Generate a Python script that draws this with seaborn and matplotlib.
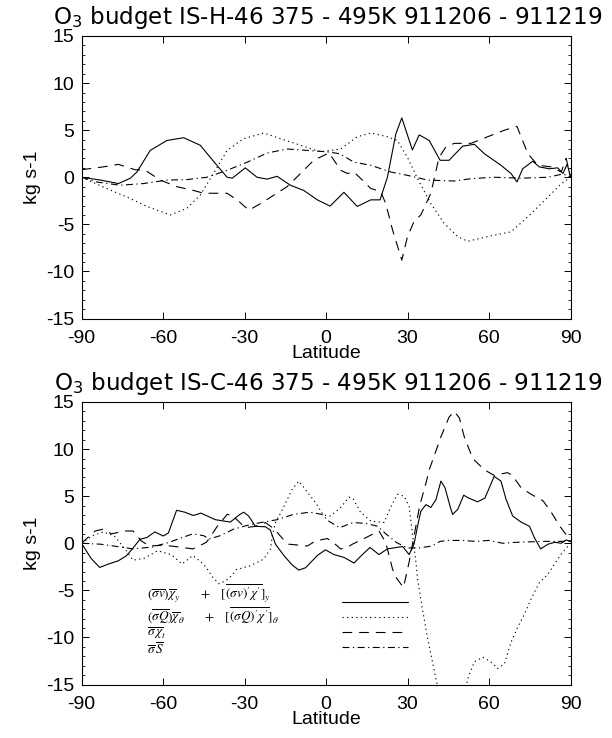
import numpy as np
import pandas as pd
import matplotlib
matplotlib.use("Agg")
import matplotlib.pyplot as plt
import seaborn as sns
from matplotlib.ticker import MultipleLocator
from matplotlib.lines import Line2D

# ---------------- data ----------------
# top panel IS-H-46
top_solid_lat = [-90, -83, -76.4, -72, -69.6, -64.7, -58.6, -52.4, -46.3, -40.7, -36.4, -34.5, -29.7, -25.4,
                 -21.7, -18, -13.1, -8.2, -3.2, 1.5, 6.6, 11.5, 16.5, 19.9, 22.6, 25.7, 27.9, 31.8, 34.3, 38,
                 42, 45.3, 50.3, 54.6, 58.3, 64.4, 68.1, 70.3, 72.4, 76.1, 78.5, 82.2, 85.3, 87.2, 88.8, 90]
top_solid_val = [0, -0.3, -0.67, -0.1, 0.56, 2.85, 3.9, 4.2, 3.4, 1.45, 0, -0.1, 1.0, 0, -0.2, 0.1, -0.85,
                 -1.4, -2.4, -3.06, -1.6, -3.1, -2.4, -2.4, 0, 4.6, 6.3, 2.9, 4.5, 3.9, 1.8, 1.8, 3.3, 3.5,
                 2.5, 1.27, 0.4, -0.5, 0.9, 1.7, 1.1, 0.9, 1.0, 0.4, 1.4, 0]

top_dot_lat = [-90, -80.7, -73.3, -65.9, -57.3, -51.2, -46.3, -41.4, -36.4, -30.3, -22.9, -16.8, -9.4, -2,
               5.4, 11.5, 16.5, 22.6, 26.3, 30, 33.7, 38.6, 43.5, 48.5, 52.1, 59.5, 68.1, 74.3, 81.7, 86.6, 90]
top_dot_val = [0, -1.2, -2.1, -3.1, -4.0, -3.3, -1.9, 0.4, 2.85, 4.1, 4.7, 4.1, 3.4, 2.7, 3.0, 4.3, 4.7,
               4.3, 3.9, 2.1, -0.15, -2.8, -4.9, -6.3, -6.8, -6.3, -5.8, -4.2, -2.1, -0.7, 0]

top_dash_lat = [-90, -82, -76.4, -70.3, -66.6, -61, -54.9, -48.8, -45, -36.4, -32.7, -28.4, -24.1, -19.2,
                -14.3, -9.4, -4.5, 0.5, 1.1, 5.4, 7.9, 10.3, 13.4, 16.5, 20.1, 22, 24.5, 27.9, 30, 32.4,
                34.9, 38.6, 41.6, 44.1, 47.2, 53.4, 59.5, 65.7, 70.3, 74.3, 78, 82.9, 86.6, 88.4, 90]
top_dash_val = [0.8, 1.1, 1.37, 0.8, 0.75, -0.3, -1.0, -1.4, -1.7, -1.7, -2.4, -3.5, -2.8, -1.9, -1.0,
                0.4, 1.8, 2.5, 2.6, 0.74, 0.4, 0.55, -0.3, -1.2, -1.5, -2.8, -5.6, -8.8, -6.3, -4.7, -4.0,
                -1.7, 2.1, 3.2, 3.6, 3.6, 4.3, 5.0, 5.4, 2.5, 1.27, 1.1, 0.56, 2.0, 0]

top_dd_lat = [-90, -84.5, -75.8, -67.2, -58.6, -51.2, -43.8, -36.4, -29, -21.7, -14.3, -6.9, 0.5, 5,
              10.3, 16.5, 23.8, 30, 37.4, 47.2, 53.4, 61.9, 71.8, 81.7, 87.2, 90]
top_dd_val = [0, -0.5, -0.85, -0.67, -0.3, -0.25, 0, 0.74, 1.6, 2.57, 3.0, 2.85, 2.7, 2.5, 1.6, 1.27,
              0.56, 0.2, -0.3, -0.4, -0.15, 0, -0.1, 0, 0.35, 0]

# bottom panel IS-C-46
bot_solid_lat = [-90, -86.5, -83.3, -80, -76.5, -73.5, -71, -68.5, -66, -63, -59.9, -58, -55, -52, -48.9,
                 -46, -43, -40.7, -35.2, -32, -30.3, -28.5, -26, -22.3, -20.5, -18.6, -15.5, -12.5, -10,
                 -7.5, -3.2, -0.2, 2.9, 6.6, 10.3, 13.4, 16.2, 19.5, 22.6, 28.2, 30.6, 32.4, 33.7, 34.9,
                 36.8, 38.6, 40.5, 42.3, 43.8, 45.7, 46.6, 48.5, 50.7, 52.5, 55.8, 58.5, 61.9, 64.4, 66.3,
                 68.7, 71.8, 74.9, 76.7, 79, 81.7, 84.2, 86.6, 88.4, 90]
bot_solid_val = [0, -1.6, -2.57, -2.2, -1.87, -1.34, -0.5, 0.42, 0.6, 1.2, 0.77, 1.1, 3.5, 3.3, 2.95,
                 3.2, 2.8, 2.5, 2.25, 3.0, 3.3, 2.9, 1.8, 1.75, 1.4, -0.1, -1.3, -2.3, -2.85, -2.6, -1.3,
                 -0.7, -1.2, -1.5, -2.1, -1.2, -0.45, -1.2, -0.6, -0.35, -1.2, -0.1, 1.8, 3.4, 4.1, 3.8,
                 4.65, 6.6, 5.9, 3.9, 3.06, 3.6, 5.1, 4.8, 4.4, 4.8, 7.1, 6.6, 4.65, 2.9, 2.25, 1.8, 0.6,
                 -0.6, -0.1, 0.1, 0.0, 0.35, 0.2]

bot_dot_lat = [-90, -86, -82, -78, -74, -71, -67, -62, -57, -53, -49, -46, -44, -42, -39.5, -37, -34.6,
               -33, -28, -23, -20.4, -19.8, -18.6, -16, -12.5, -10, -7.6, -3.8, -1, 1.7, 5.4, 8.5, 10,
               12.8, 16.5, 21.4, 23.9, 26.3, 28.8, 30.6, 31.9, 33.1, 33.7, 35.5, 37.4, 39.2, 40.5, 43,
               47, 50, 52.4, 54.6, 57.7, 60.7, 63.2, 65.7, 68.1, 70.6, 73.1, 75.5, 78.6, 81.7, 84.1, 87, 90]
bot_dot_val = [0, 0.8, 1.2, 0.8, -0.6, -1.8, -1.6, -0.8, -1.2, -2.2, -1.3, -2.0, -2.6, -3.5, -4.3, -4.0,
               -3.4, -2.8, -2.4, -1.7, -0.6, 0.8, 2.2, 3.6, 5.7, 6.6, 5.7, 4.3, 3.0, 2.9, 3.8, 4.9, 4.7,
               3.25, 2.35, 2.2, 3.9, 5.2, 5.0, 3.9, 0.8, -2.0, -3.8, -7.0, -10.1, -12.6, -14.5, -17.5,
               -18.5, -17, -14.2, -12.6, -12.1, -12.6, -13.3, -12.8, -10.5, -8.9, -7.5, -5.9, -4.15,
               -3.3, -2.2, -1.0, 0]

bot_dash_lat = [-90, -85, -82, -79, -74, -71, -68, -65, -60, -54, -49, -44, -40, -36.4, -34.6, -31, -29.7,
                -26, -22.3, -19, -16, -13.7, -10, -6.9, -3.8, 0.5, 3, 5.4, 7.5, 9.7, 14, 19.5, 22, 24.5,
                25.7, 28.5, 30.6, 32.4, 34.5, 36.8, 38, 42.3, 45.3, 47.2, 49.1, 50.9, 54, 58.3, 61.9,
                66.8, 68.6, 71.8, 75.5, 79.9, 83, 86.1, 87.9, 89, 90]
bot_dash_val = [0, 1.3, 1.5, 1.0, 1.3, 1.3, 0.25, -0.3, -0.2, -0.4, -0.6, 0.1, 1.8, 3.06, 3.0, 2.0, 1.65,
                1.8, 2.2, 1.5, 0.5, -0.1, -0.2, -0.3, 0.25, 0.5, 0.0, -0.6, -0.5, -0.1, 0.5, 1.3, 0.07,
                -2.75, -3.6, -4.7, -2.0, 0.77, 4.0, 6.4, 7.8, 11.3, 13.4, 14.0, 13.3, 11.3, 9.0, 7.8,
                7.2, 7.5, 7.2, 5.9, 5.2, 4.5, 3.25, 1.8, 1.1, 0.8, 0.2]

bot_dd_lat = [-90, -83, -78, -71, -64, -58, -54, -49, -45, -43, -39, -34, -29, -24, -18, -12, -6, -1.5,
              1, 5, 10, 15, 19, 22, 26, 30, 34, 39, 42, 45, 50, 55, 60, 65, 70, 80, 90]
bot_dd_val = [0, -0.1, -0.3, -0.6, -0.4, 0.07, 0.5, 1.0, 0.8, 0.45, 0.8, 1.5, 1.9, 2.2, 2.5, 3.06, 3.3,
              3.06, 2.35, 1.65, 2.2, 2.1, 1.8, 1.0, 0.07, -0.5, -0.5, -0.3, 0.2, 0.3, 0.3, 0.2, 0.3, 0.0,
              0.1, 0.2, 0.2]

titles = ["O$_3$ budget IS-H-46 375 - 495K 911206 - 911219",
          "O$_3$ budget IS-C-46 375 - 495K 911206 - 911219"]
legend_labels = [
    r"$(\overline{\sigma v})\overline{\chi}_y\qquad+\quad[\overline{(\sigma v)^{\prime}\chi^{\prime}}]_y$",
    r"$(\overline{\sigma Q})\overline{\chi}_\theta\qquad+\quad[\overline{(\sigma Q)^{\prime}\chi^{\prime}}]_\theta$",
    r"$\overline{\sigma}\,\overline{\chi}_t$",
    r"$\overline{\sigma}\,\overline{S}$",
]
x_ticks = [-90, -60, -30, 0, 30, 60, 90]
y_ticks = [-15, -10, -5, 0, 5, 10, 15]

# ---------------- style ----------------
sns.set_theme(style="ticks")
plt.rcParams["font.family"] = ["Liberation Sans", "DejaVu Sans"]
plt.rcParams["axes.unicode_minus"] = False
plt.rcParams["lines.scale_dashes"] = False
for k in ["text.color", "axes.labelcolor", "xtick.color", "ytick.color", "axes.edgecolor"]:
    plt.rcParams[k] = "black"

LS = {
    "solid": "-",
    "dot": (0, (0.9, 2.4)),
    "dash": (0, (7.0, 5.0)),
    "dd": (0, (5.0, 2.5, 0.9, 2.5)),
}

W, H = 612, 738
fig = plt.figure(figsize=(W / 100, H / 100), dpi=100)
ax_l, ax_r = 81.5, 570.5
axes_px = [(36, 318.5), (402, 684.5)]
axs = []
for top, bot in axes_px:
    ax = fig.add_axes([ax_l / W, 1 - bot / H, (ax_r - ax_l) / W, (bot - top) / H])
    axs.append(ax)

panels = [
    [(top_solid_lat, top_solid_val, "solid"), (top_dot_lat, top_dot_val, "dot"),
     (top_dash_lat, top_dash_val, "dash"), (top_dd_lat, top_dd_val, "dd")],
    [(bot_solid_lat, bot_solid_val, "solid"), (bot_dot_lat, bot_dot_val, "dot"),
     (bot_dash_lat, bot_dash_val, "dash"), (bot_dd_lat, bot_dd_val, "dd")],
]

for i, (ax, series) in enumerate(zip(axs, panels)):
    for lat, val, st in series:
        df = pd.DataFrame({"lat": lat, "val": val})
        sns.lineplot(data=df, x="lat", y="val", ax=ax, color="black", linewidth=0.8,
                     sort=False, estimator=None)
        ax.lines[-1].set_linestyle(LS[st])
    ax.set_xlim(-90, 90)
    ax.set_ylim(-15, 15)
    ax.set_xticks(x_ticks)
    ax.set_yticks(y_ticks)
    ax.yaxis.set_minor_locator(MultipleLocator(1))
    ax.tick_params(which="major", direction="in", top=True, right=True, length=5, width=0.7,
                   labelsize=14, pad=8)
    ax.tick_params(axis="y", which="major", pad=5)
    ax.tick_params(which="minor", direction="in", top=False, right=True, length=2.5, width=0.6)
    ax.tick_params(axis="x", which="minor", bottom=False, top=False)
    for s in ax.spines.values():
        s.set_linewidth(0.8)
        s.set_color("black")
    ax.set_xlabel("Latitude", fontsize=14, labelpad=-1)
    ax.set_ylabel("kg s-1", fontsize=14, labelpad=4)
    top = axes_px[i][0]
    fig.text(328 / W, 1 - (top - 12) / H, titles[i], ha="center", va="baseline",
             fontsize=16.6, family="DejaVu Sans")

# legend in the bottom panel
ax2 = axs[1]
row_px = [594, 615.5, 633, 650]
for lab, yp in zip(legend_labels, row_px):
    ax2.text(0.134, (684.5 - yp) / 282.5, lab, transform=ax2.transAxes, ha="left", va="center",
             fontsize=9.5, math_fontfamily="stix")
handles = [Line2D([], [], color="black", linewidth=0.8, linestyle=LS[k]) for k in ["solid", "dot", "dash", "dd"]]
ax2.legend(handles=handles, labels=[""] * 4, loc="upper left", bbox_to_anchor=(0.533, 0.31),
           frameon=False, fontsize=10, handlelength=4.75, handleheight=1.0, handletextpad=0,
           borderpad=0, borderaxespad=0, labelspacing=0.05)

fig.savefig("out.png", dpi=100)
